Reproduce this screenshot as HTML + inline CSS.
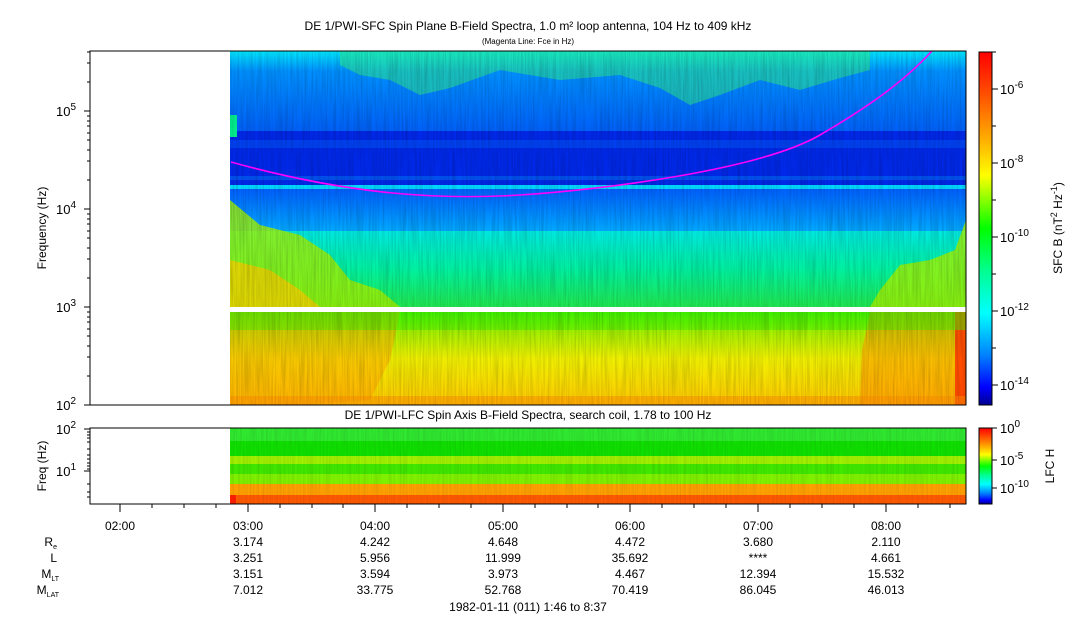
<!DOCTYPE html>
<html><head><meta charset="utf-8"><style>
body{margin:0;background:#fff}
svg text{font-family:"Liberation Sans",sans-serif;fill:#000}
</style></head><body>
<svg width="1083" height="620" viewBox="0 0 1083 620" xmlns="http://www.w3.org/2000/svg">
<defs>
<linearGradient id="jet" x1="0" y1="0" x2="0" y2="1">
<stop offset="0" stop-color="#ff0000"/><stop offset="0.12" stop-color="#ff5000"/><stop offset="0.25" stop-color="#ffb000"/><stop offset="0.35" stop-color="#ffff00"/><stop offset="0.5" stop-color="#00ff00"/><stop offset="0.62" stop-color="#00ff90"/><stop offset="0.74" stop-color="#00ffff"/><stop offset="0.86" stop-color="#0080ff"/><stop offset="0.95" stop-color="#0000ff"/><stop offset="1" stop-color="#000090"/>
</linearGradient>
<linearGradient id="top" x1="0" y1="0" x2="0" y2="1">
<stop offset="0" stop-color="#00e8ff"/><stop offset="0.25" stop-color="#0090ff"/><stop offset="1" stop-color="#0060f8"/>
</linearGradient>
<linearGradient id="mid" x1="0" y1="0" x2="0" y2="1">
<stop offset="0" stop-color="#0060ff"/><stop offset="1" stop-color="#00a8ff"/>
</linearGradient>
<linearGradient id="low" x1="0" y1="0" x2="0" y2="1">
<stop offset="0" stop-color="#00e8e0"/><stop offset="0.5" stop-color="#00f0a0"/><stop offset="1" stop-color="#20e850"/>
</linearGradient>
<linearGradient id="bot" x1="0" y1="0" x2="0" y2="1">
<stop offset="0" stop-color="#40f000"/><stop offset="0.2" stop-color="#a0f000"/><stop offset="0.5" stop-color="#f0f000"/><stop offset="1" stop-color="#ffc800"/>
</linearGradient>
<filter id="nz" x="0" y="0" width="1" height="1"><feTurbulence type="fractalNoise" baseFrequency="0.6 0.02" numOctaves="2" seed="3"/><feColorMatrix values="0 0 0 0 0  0 0 0 0 0  0 0 0 0 0  0 0 0 0.3 -0.1"/></filter>
</defs>
<text x="528" y="30" font-size="12" text-anchor="middle">DE 1/PWI-SFC  Spin Plane B-Field Spectra, 1.0 m² loop antenna, 104 Hz to 409 kHz</text>
<text x="528" y="44" font-size="8" text-anchor="middle">(Magenta Line: Fce in Hz)</text>

<!-- main spectrogram -->
<rect x="230" y="51" width="736" height="80" fill="url(#top)"/>
<rect x="230" y="131" width="736" height="55" fill="#0028e8"/>
<rect x="230" y="140" width="736" height="8" fill="#0040f0"/>
<rect x="230" y="176" width="736" height="4" fill="#0050f0"/>
<rect x="230" y="185" width="736" height="4" fill="#00d8ff"/>
<rect x="230" y="189" width="736" height="42" fill="url(#mid)"/>
<rect x="230" y="231" width="736" height="76" fill="url(#low)"/>
<rect x="230" y="312" width="736" height="93" fill="url(#bot)"/>
<path d="M340 51 H870 V70 L840 78 L800 90 L760 80 L720 95 L690 105 L660 88 L620 75 L560 80 L500 70 L450 88 L420 95 L390 80 L360 75 L340 65Z" fill="#30f080" opacity="0.5"/>
<path d="M230 200 L260 225 L300 235 L330 255 L350 280 L380 290 L400 307 H230Z" fill="#a0f000" opacity="0.8"/>
<path d="M230 260 L270 270 L300 290 L320 307 H230Z" fill="#f0d000" opacity="0.8"/>
<path d="M230 312 H400 L390 360 L370 400 L300 405 H230Z" fill="#ff9800" opacity="0.45"/>
<path d="M966 220 L955 250 L930 260 L900 265 L880 290 L870 307 H966Z" fill="#a0f000" opacity="0.8"/>
<path d="M966 312 V405 H860 L862 350 L870 312Z" fill="#ff8a00" opacity="0.5"/>
<rect x="955" y="312" width="11" height="93" fill="#ff3000" opacity="0.8"/>
<rect x="230" y="312" width="736" height="18" fill="#40f000" opacity="0.5"/>
<rect x="230" y="396" width="736" height="9" fill="#ff9000" opacity="0.5"/>
<rect x="230" y="115" width="7" height="22" fill="#00f090"/>
<rect x="230" y="51" width="736" height="354" filter="url(#nz)"/>
<rect x="230" y="307" width="736" height="5" fill="#fff"/>
<path d="M231 162 C350 195 440 200 520 195 S760 170 820 135 S910 75 932 51" fill="none" stroke="#ff00ff" stroke-width="1.6"/>
<rect x="90" y="51" width="876" height="354" fill="none" stroke="#000"/>
<g stroke="#000">
<line x1="84" y1="111" x2="90" y2="111"/><line x1="84" y1="209" x2="90" y2="209"/><line x1="84" y1="307" x2="90" y2="307"/><line x1="84" y1="405" x2="90" y2="405"/>
<path d="M87 376H90M87 357H90M87 346H90M87 336H90M87 329H90M87 322H90M87 317H90M87 312H90M87 278H90M87 259H90M87 248H90M87 238H90M87 231H90M87 224H90M87 219H90M87 214H90M87 180H90M87 161H90M87 150H90M87 140H90M87 133H90M87 126H90M87 121H90M87 116H90M87 82H90M87 63H90M87 52H90"/>
</g>
<g font-size="13" text-anchor="end">
<text x="76" y="116">10<tspan font-size="10" dy="-6">5</tspan></text>
<text x="76" y="214">10<tspan font-size="10" dy="-6">4</tspan></text>
<text x="76" y="312">10<tspan font-size="10" dy="-6">3</tspan></text>
<text x="76" y="410">10<tspan font-size="10" dy="-6">2</tspan></text>
</g>
<text transform="translate(46 228) rotate(-90)" font-size="12" text-anchor="middle">Frequency (Hz)</text>

<rect x="979" y="52" width="13" height="353" fill="url(#jet)" stroke="#000"/>
<g stroke="#000"><path d="M992 89H998M992 163H998M992 237H998M992 311H998M992 385H998M992 52H996M992 126H996M992 200H996M992 274H996M992 348H996"/></g>
<g font-size="13">
<text x="1000" y="94">10<tspan font-size="10" dy="-6">-6</tspan></text>
<text x="1000" y="168">10<tspan font-size="10" dy="-6">-8</tspan></text>
<text x="1000" y="242">10<tspan font-size="10" dy="-6">-10</tspan></text>
<text x="1000" y="316">10<tspan font-size="10" dy="-6">-12</tspan></text>
<text x="1000" y="390">10<tspan font-size="10" dy="-6">-14</tspan></text>
</g>
<text transform="translate(1062 228) rotate(-90)" font-size="12" text-anchor="middle">SFC B (nT<tspan font-size="9" dy="-5">2</tspan><tspan dy="5"> Hz</tspan><tspan font-size="9" dy="-5">-1</tspan><tspan dy="5">)</tspan></text>

<text x="528" y="419" font-size="12" text-anchor="middle">DE 1/PWI-LFC  Spin Axis B-Field Spectra, search coil, 1.78 to 100 Hz</text>
<rect x="230" y="428" width="736" height="13" fill="#30e830"/>
<rect x="230" y="441" width="736" height="15" fill="#10e000"/>
<rect x="230" y="456" width="736" height="8" fill="#a0f000"/>
<rect x="230" y="464" width="736" height="10" fill="#40e800"/>
<rect x="230" y="474" width="736" height="10" fill="#80f000"/>
<rect x="230" y="484" width="736" height="11" fill="#ffa000"/>
<rect x="230" y="495" width="736" height="9" fill="#ff5a00"/>
<rect x="230" y="495" width="6" height="9" fill="#ff2000"/>
<rect x="230" y="428" width="736" height="76" filter="url(#nz)" opacity="0.6"/>
<rect x="90" y="428" width="876" height="76" fill="none" stroke="#000"/>
<g stroke="#000"><path d="M84 429H90M84 471H90M87 442H90M87 449H90M87 455H90M87 459H90M87 463H90M87 466H90M87 469H90M87 484H90M87 492H90M87 497H90M87 432H90M87 435H90M87 438H90"/></g>
<g font-size="13" text-anchor="end">
<text x="76" y="434">10<tspan font-size="10" dy="-6">2</tspan></text>
<text x="76" y="476">10<tspan font-size="10" dy="-6">1</tspan></text>
</g>
<text transform="translate(46 466) rotate(-90)" font-size="12" text-anchor="middle">Freq (Hz)</text>
<rect x="979" y="428" width="13" height="76" fill="url(#jet)" stroke="#000"/>
<g stroke="#000"><path d="M992 428H997M992 460H997M992 488H997"/></g>
<g font-size="13">
<text x="1000" y="433">10<tspan font-size="10" dy="-6">0</tspan></text>
<text x="1000" y="465">10<tspan font-size="10" dy="-6">-5</tspan></text>
<text x="1000" y="493">10<tspan font-size="10" dy="-6">-10</tspan></text>
</g>
<text transform="translate(1054 466) rotate(-90)" font-size="12" text-anchor="middle">LFC H</text>

<g stroke="#000">
<path d="M120 504V512M248 504V512M375 504V512M503 504V512M630 504V512M758 504V512M886 504V512"/>
<path d="M152 504V508M184 504V508M216 504V508M280 504V508M312 504V508M343 504V508M407 504V508M439 504V508M471 504V508M535 504V508M567 504V508M598 504V508M662 504V508M694 504V508M726 504V508M790 504V508M822 504V508M854 504V508M918 504V508M950 504V508"/>
</g>
<g font-size="12" text-anchor="middle">
<text x="120" y="530">02:00</text>
<text x="248" y="530">03:00</text><text x="248" y="546">3.174</text><text x="248" y="562">3.251</text><text x="248" y="578">3.151</text><text x="248" y="594">7.012</text>
<text x="375" y="530">04:00</text><text x="375" y="546">4.242</text><text x="375" y="562">5.956</text><text x="375" y="578">3.594</text><text x="375" y="594">33.775</text>
<text x="503" y="530">05:00</text><text x="503" y="546">4.648</text><text x="503" y="562">11.999</text><text x="503" y="578">3.973</text><text x="503" y="594">52.768</text>
<text x="630" y="530">06:00</text><text x="630" y="546">4.472</text><text x="630" y="562">35.692</text><text x="630" y="578">4.467</text><text x="630" y="594">70.419</text>
<text x="758" y="530">07:00</text><text x="758" y="546">3.680</text><text x="758" y="562">****</text><text x="758" y="578">12.394</text><text x="758" y="594">86.045</text>
<text x="886" y="530">08:00</text><text x="886" y="546">2.110</text><text x="886" y="562">4.661</text><text x="886" y="578">15.532</text><text x="886" y="594">46.013</text>
<text x="528" y="611">1982-01-11 (011) 1:46 to 8:37</text>
</g>
<g font-size="12" text-anchor="end">
<text x="57" y="546">R<tspan font-size="7" dy="3">e</tspan></text>
<text x="57" y="562">L</text>
<text x="59" y="578">M<tspan font-size="7" dy="3">LT</tspan></text>
<text x="59" y="594">M<tspan font-size="7" dy="3">LAT</tspan></text>
</g>
</svg>
</body></html>
